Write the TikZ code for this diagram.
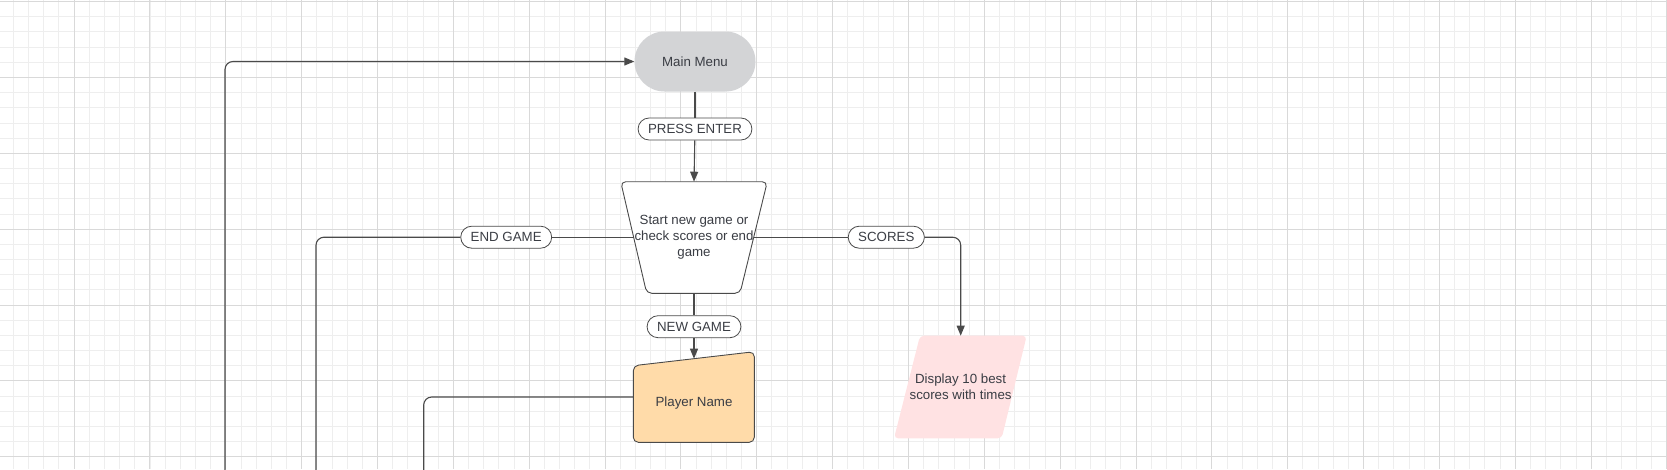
\documentclass[tikz,border=0pt]{standalone}
\usepackage{fontspec}
\setmainfont{Liberation Sans}
\usetikzlibrary{arrows.meta}

\definecolor{gridlight}{HTML}{EEEEEE}
\definecolor{griddark}{HTML}{D9D9D9}
\definecolor{linegray}{HTML}{4A4A4A}
\definecolor{textgray}{HTML}{3A3D44}
\definecolor{menugray}{HTML}{D3D4D6}
\definecolor{nameorange}{HTML}{FFDBA9}
\definecolor{scorepink}{HTML}{FFE2E3}

\begin{document}
\begin{tikzpicture}[x=1pt, y=-1pt,
	txt/.style={text=textgray, font=\fontsize{13.3}{16}\selectfont, align=center},
	flow/.style={draw=linegray, line width=1.1pt, rounded corners=8pt},
	tip/.style={-{Triangle[length=10pt,width=8pt]}},
	tag/.style={txt, draw=linegray, line width=0.8pt, fill=white, rounded corners=11pt,
		minimum height=22pt, inner xsep=10pt, inner ysep=0pt},
	menubox/.style={txt, fill=menugray, rounded corners=30pt, minimum width=121pt, minimum height=60pt},
	choicebox/.style={draw=linegray, line width=0.9pt, fill=white, rounded corners=5pt},
	namebox/.style={draw=linegray, line width=0.9pt, fill=nameorange, rounded corners=5pt},
	scorebox/.style={fill=scorepink, rounded corners=4pt}]

\useasboundingbox (0,0) rectangle (1667,469);

% grid paper
\foreach[evaluate={\gx=-1.85+15.17*\i}] \i in {0,...,110}{
	\draw[gridlight, line width=0.7pt] (\gx,0) -- (\gx,469);
}
\foreach[evaluate={\gy=1.5+15.17*\j}] \j in {0,...,30}{
	\draw[gridlight, line width=0.7pt] (0,\gy) -- (1667,\gy);
}
\foreach[evaluate={\gx=-1.85+15.17*\i}] \i in {0,5,...,110}{
	\draw[griddark, line width=0.8pt] (\gx,0) -- (\gx,469);
}
\foreach[evaluate={\gy=1.5+15.17*\j}] \j in {0,5,...,30}{
	\draw[griddark, line width=0.8pt] (0,\gy) -- (1667,\gy);
}

% shapes
\draw[choicebox] (620.7,181.7) -- (767.3,181.7) -- (740,293.3) -- (646.7,293.3) -- cycle;
\draw[namebox] (633.3,365.7) -- (754.3,351.7) -- (754.3,442.3) -- (633.3,442.3) -- cycle;
\fill[scorebox] (920,335.7) -- (1026.7,335.7) -- (1001.7,438.3) -- (894,438.3) -- cycle;

\node[menubox] (mainmenu) at (695,61.5) {Main Menu};
\node[txt] (choice) at (694,237.5) {Start new game or\\check scores or end\\game};
\node[txt] (player) at (694,403.5) {Player Name};
\node[txt] (scores) at (960.6,386.5) {Display 10 best\\scores with times};

\node[tag] (press) at (695,129) {PRESS ENTER};
\node[tag] (endgame) at (506.2,237.2) {END GAME};
\node[tag] (scoretag) at (886.3,237.2) {SCORES};
\node[tag] (newgame) at (694,326.7) {NEW GAME};

\coordinate (choicetop) at (694,181.7);
\coordinate (choicebottom) at (694,293.3);
\coordinate (choiceleft) at (633.6,237.2);
\coordinate (choiceright) at (753.8,237.2);
\coordinate (playertop) at (694,358.7);
\coordinate (playerleft) at (633.3,397);
\coordinate (scorestop) at (960.7,335.7);
\coordinate (loopmain) at (225,470);
\coordinate (loopend) at (316,470);
\coordinate (loopname) at (423.7,470);

% connectors
\draw[flow] (mainmenu) -- (press);
\draw[flow,tip] (press) -- (choicetop);
\draw[flow] (choiceleft) -- (endgame);
\draw[flow] (endgame.west) -| (loopend);
\draw[flow] (choiceright) -- (scoretag);
\draw[flow,tip] (scoretag.east) -| (scorestop);
\draw[flow] (choicebottom) -- (newgame);
\draw[flow,tip] (newgame) -- (playertop);
\draw[flow] (playerleft) -| (loopname);
\draw[flow,tip] (loopmain) |- (mainmenu.west);

\end{tikzpicture}
\end{document}
